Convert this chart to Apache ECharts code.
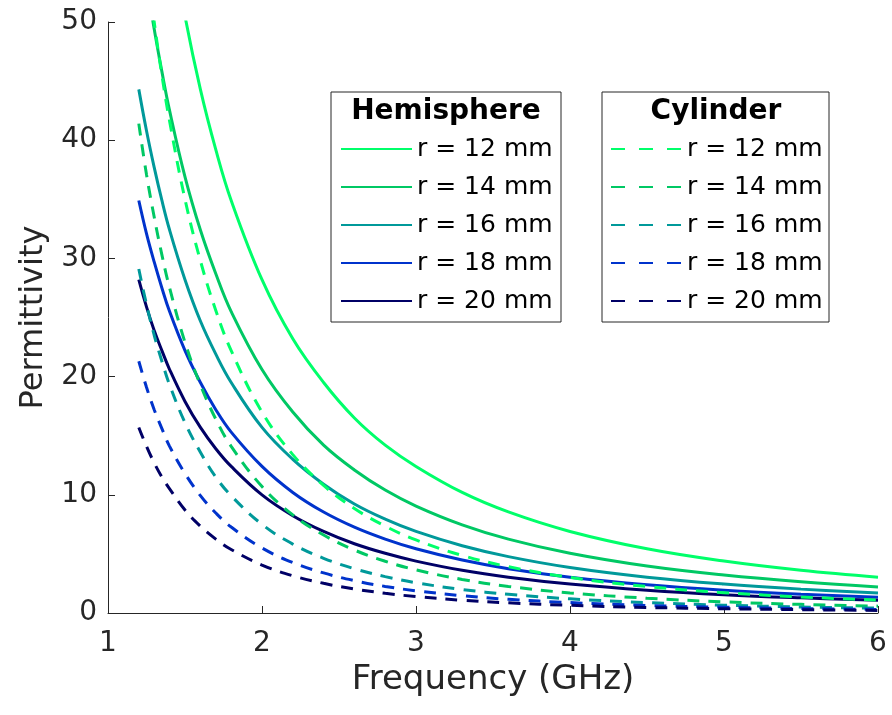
<!DOCTYPE html>
<html>
<head>
<meta charset="UTF-8">
<title>Permittivity vs frequency</title>
<script src="https://cdn.jsdelivr.net/npm/echarts@6/dist/echarts.min.js"></script>
<style>
  html, body { margin: 0; padding: 0; background: #fff; }
  #chart { width: 892px; height: 715px; }
</style>
</head>
<body>
<div id="chart"></div>
<script>
// frequency samples (GHz)
var freq = [1.2, 1.25, 1.3, 1.35, 1.4, 1.5, 1.6, 1.7, 1.8, 2.0, 2.2, 2.4, 2.6, 2.8, 3.0, 3.3, 3.6, 4.0, 4.5, 5.0, 5.5, 6.0];

// hemisphere, solid lines
var hemi12 = [79.5, 73.2, 67.6, 62.6, 58.1, 50.5, 44.3, 39.2, 34.9, 28.2, 23.2, 19.5, 16.5, 14.2, 12.4, 10.2, 8.55, 6.9, 5.43, 4.39, 3.61, 3.03];
var hemi14 = [58.1, 53.5, 49.4, 45.8, 42.5, 36.9, 32.4, 28.7, 25.5, 20.6, 17.0, 14.2, 12.1, 10.4, 9.05, 7.46, 6.25, 5.05, 3.97, 3.21, 2.64, 2.21];
var hemi16 = [44.3, 40.8, 37.7, 34.9, 32.4, 28.2, 24.7, 21.9, 19.5, 15.7, 13.0, 10.9, 9.22, 7.94, 6.90, 5.69, 4.77, 3.85, 3.03, 2.45, 2.02, 1.69];
var hemi18 = [34.9, 32.1, 29.7, 27.5, 25.5, 22.2, 19.5, 17.2, 15.3, 12.4, 10.2, 8.54, 7.26, 6.25, 5.43, 4.48, 3.75, 3.03, 2.39, 1.93, 1.59, 1.33];
var hemi20 = [28.2, 25.9, 23.9, 22.2, 20.6, 17.9, 15.7, 13.9, 12.4, 9.99, 8.23, 6.90, 5.86, 5.05, 4.39, 3.61, 3.03, 2.45, 1.93, 1.55, 1.28, 1.07];

// cylinder, dashed lines
var cyl12 = [61.1, 55.2, 50.0, 45.5, 41.6, 35.0, 29.8, 25.6, 22.2, 17.0, 13.4, 10.8, 8.84, 7.35, 6.18, 4.87, 3.92, 3.01, 2.24, 1.72, 1.36, 1.09];
var cyl14 = [41.4, 37.1, 33.5, 30.3, 27.5, 22.9, 19.3, 16.4, 14.1, 10.7, 8.30, 6.60, 5.33, 4.38, 3.65, 2.84, 2.25, 1.70, 1.25, 0.94, 0.73, 0.58];
var cyl16 = [29.1, 26.1, 23.5, 21.3, 19.3, 16.1, 13.6, 11.5, 9.92, 7.50, 5.83, 4.63, 3.74, 3.08, 2.56, 1.99, 1.58, 1.20, 0.88, 0.66, 0.51, 0.41];
var cyl18 = [21.3, 19.1, 17.2, 15.6, 14.1, 11.8, 9.93, 8.46, 7.27, 5.50, 4.27, 3.39, 2.74, 2.25, 1.88, 1.46, 1.16, 0.88, 0.64, 0.49, 0.38, 0.30];
var cyl20 = [15.7, 14.1, 12.7, 11.5, 10.5, 8.71, 7.34, 6.25, 5.37, 4.06, 3.15, 2.51, 2.03, 1.67, 1.39, 1.08, 0.86, 0.65, 0.47, 0.36, 0.28, 0.22];

var labels = ['r = 12 mm', 'r = 14 mm', 'r = 16 mm', 'r = 18 mm', 'r = 20 mm'];
var colors = ['#00ff6a', '#00c864', '#00999a', '#0033cc', '#000066'];
var hemiData = [hemi12, hemi14, hemi16, hemi18, hemi20];
var cylData = [cyl12, cyl14, cyl16, cyl18, cyl20];

var FONT = 'DejaVu Sans';
var AXIS_COLOR = '#262626';

function pairs(vals) {
  return freq.map(function (f, i) { return [f, vals[i]]; });
}

var series = [];
var hemiNames = [], cylNames = [];
labels.forEach(function (lab, i) {
  hemiNames.push('H ' + lab);
  series.push({
    name: 'H ' + lab, type: 'line', data: pairs(hemiData[i]),
    symbol: 'none', smooth: 0.4,
    lineStyle: { color: colors[i], width: 3 },
    itemStyle: { color: colors[i] }
  });
});
labels.forEach(function (lab, i) {
  cylNames.push('C ' + lab);
  series.push({
    name: 'C ' + lab, type: 'line', data: pairs(cylData[i]),
    symbol: 'none', smooth: 0.4,
    lineStyle: { color: colors[i], width: 3, type: [12, 9] },
    itemStyle: { color: colors[i] }
  });
});

// itemHeight kept tiny so the legend shows only the line sample
function legendOpt(names, left, dash) {
  return {
    data: names,
    orient: 'vertical',
    left: left,
    top: 134,
    itemWidth: 71,
    itemHeight: 2,
    itemGap: 8,
    padding: 0,
    selectedMode: false,
    formatter: function (n) { return n.slice(2); },
    lineStyle: dash ? { type: [14, 14] } : {},
    textStyle: { fontFamily: FONT, fontSize: 25, color: '#000', lineHeight: 30 }
  };
}

var chart = echarts.init(document.getElementById('chart'));
chart.setOption({
  animation: false,
  backgroundColor: '#fff',
  grid: { left: 108, right: 14, top: 22, bottom: 102 },
  xAxis: {
    type: 'value', min: 1, max: 6, interval: 1,
    name: 'Frequency (GHz)', nameLocation: 'middle', nameGap: 40,
    nameTextStyle: { fontFamily: FONT, fontSize: 34, color: AXIS_COLOR },
    axisLine: { lineStyle: { color: AXIS_COLOR, width: 1 } },
    axisTick: { inside: true, length: 7, lineStyle: { color: AXIS_COLOR } },
    axisLabel: { margin: 17, fontFamily: FONT, fontSize: 28, color: AXIS_COLOR },
    splitLine: { show: false }
  },
  yAxis: {
    type: 'value', min: 0, max: 50, interval: 10,
    name: 'Permittivity', nameLocation: 'middle', nameGap: 58,
    nameTextStyle: { fontFamily: FONT, fontSize: 32, color: AXIS_COLOR },
    axisLine: { show: true, lineStyle: { color: AXIS_COLOR, width: 1 } },
    axisTick: { show: true, inside: true, length: 7, lineStyle: { color: AXIS_COLOR } },
    axisLabel: { margin: 11, fontFamily: FONT, fontSize: 28, color: AXIS_COLOR },
    splitLine: { show: false }
  },
  legend: [legendOpt(hemiNames, 340, false), legendOpt(cylNames, 610, true)],
  graphic: [
    { type: 'rect', z: -1, shape: { x: 331, y: 92, width: 230, height: 230 },
      style: { fill: '#fff', stroke: AXIS_COLOR, lineWidth: 1 } },
    { type: 'rect', z: -1, shape: { x: 602, y: 92, width: 227, height: 230 },
      style: { fill: '#fff', stroke: AXIS_COLOR, lineWidth: 1 } },
    { type: 'text', x: 446, y: 112,
      style: { text: 'Hemisphere', font: 'bold 28px "DejaVu Sans"', fill: '#000',
               textAlign: 'center', textVerticalAlign: 'middle' } },
    { type: 'text', x: 716, y: 112,
      style: { text: 'Cylinder', font: 'bold 28px "DejaVu Sans"', fill: '#000',
               textAlign: 'center', textVerticalAlign: 'middle' } }
  ],
  series: series
});
</script>
</body>
</html>
